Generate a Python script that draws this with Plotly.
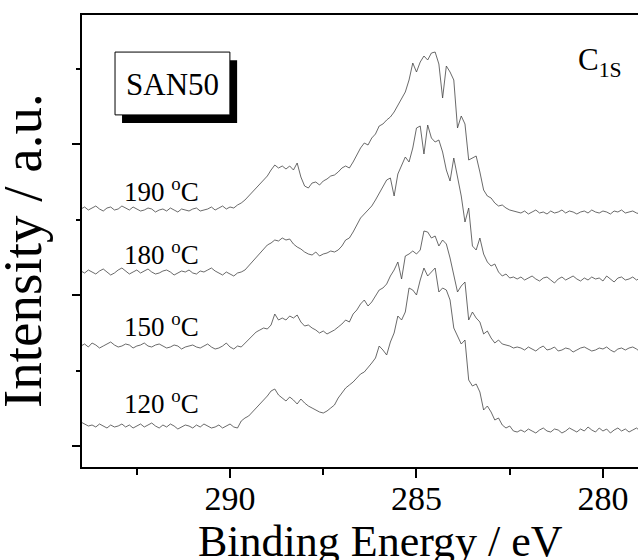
import plotly.graph_objects as go

# Binding energy grid (eV), 0.1 eV step from 294.0 down to 279.0
energy = [round(294.0 - 0.1 * i, 1) for i in range(151)]

# Intensities (a.u., offset spectra as plotted)
i190 = [237,239,236,238,240,237,235,238,239,236,237,240,238,236,239,237,235,236,238,237,
        234,236,237,235,238,236,234,237,236,235,237,238,235,236,237,239,236,238,240,237,
        239,238,241,
        243,246,250,254,257,262,265,270,276,281,278,280,277,280,
        276,283,269,260,258,263,264,261,265,267,270,271,274,278,280,
        278,284,291,298,303,301,308,312,320,322,326,329,334,341,347,354,366,383,374,384,
        390,386,393,394,382,
        348,380,374,366,318,330,322,286,288,290,274,256,250,248,243,240,241,238,236,235,234,
        233,235,232,234,236,233,234,232,235,233,234,236,233,235,234,232,234,235,233,236,
        234,233,235,234,232,235,234,236,233,234,235,233,232]

i180 = [175,173,176,174,172,175,177,174,171,173,176,178,175,172,174,176,173,175,177,174,
        172,173,175,176,174,171,173,175,174,176,173,172,175,174,176,178,175,173,171,174,
        172,170,173,
        174,176,180,184,188,193,196,201,203,206,205,208,206,207,
        202,199,197,194,192,191,194,190,192,193,195,194,196,200,206,
        208,214,221,228,232,236,240,246,253,260,266,268,250,272,280,289,284,298,318,320,
        292,321,308,304,306,294,276,265,288,268,250,224,238,200,196,208,192,184,180,182,
        174,170,172,168,169,167,
        169,166,168,170,167,165,168,169,166,163,167,169,166,168,170,167,165,168,166,169,
        167,168,165,170,167,164,168,169,166,167,169,166,168]

i150 = [100,102,99,103,101,98,100,102,104,101,99,100,102,101,98,100,101,103,100,99,
        101,102,100,98,99,101,100,97,99,100,101,99,98,100,102,99,97,98,100,103,
        99,97,100,
        99,103,106,110,114,116,118,117,121,132,126,128,126,130,
        128,131,124,120,121,118,116,113,115,112,114,116,119,122,126,
        124,132,136,142,146,140,144,150,156,158,162,170,176,184,167,190,192,195,192,196,
        215,214,208,210,200,206,202,188,170,154,160,164,126,134,128,124,112,115,108,103,
        106,102,101,100,98,99,
        98,96,99,97,95,98,100,96,97,99,95,96,98,97,94,96,98,99,97,95,
        96,98,97,99,96,94,97,98,96,98,99,97,94]

i120 = [24,22,20,21,19,22,20,18,21,19,20,22,19,21,18,20,22,19,21,23,
        20,18,21,19,22,20,17,19,21,20,18,21,19,22,20,18,19,21,18,20,
        22,19,18,
        25,28,30,34,38,41,46,50,55,57,51,48,45,49,
        46,42,47,43,40,38,36,34,33,35,38,41,48,53,58,
        61,64,68,72,74,78,83,88,100,96,91,104,113,130,126,134,158,156,151,166,
        178,170,174,178,154,158,156,146,118,110,102,106,66,60,62,54,36,40,34,26,
        28,21,18,20,15,14,
        16,14,17,15,13,16,18,15,14,17,16,13,15,18,16,14,17,15,19,16,
        14,18,15,17,13,16,18,15,17,14,16,18,15]

series = [("190 °C", i190), ("180 °C", i180), ("150 °C", i150), ("120 °C", i120)]
label_y = {"190 °C": 0.613, "180 °C": 0.473, "150 °C": 0.314, "120 °C": 0.144}

FONT = "Liberation Serif, Times New Roman, serif"

fig = go.Figure()
for name, vals in series:
    fig.add_trace(go.Scatter(x=energy, y=vals, mode="lines", name=name,
                             line=dict(color="#444444", width=0.8),
                             showlegend=False))

annotations = []
for name, _ in series:
    num = name.split(" ")[0]
    annotations.append(dict(text=f"{num} <sup>o</sup>C", xref="paper", yref="paper",
                            x=0.072, y=label_y[name], xanchor="left", yanchor="middle",
                            showarrow=False, font=dict(family=FONT, size=27, color="black")))

annotations += [
    dict(text="SAN50", xref="paper", yref="paper", x=0.162, y=0.847,
         xanchor="center", yanchor="middle", showarrow=False,
         font=dict(family=FONT, size=31, color="black")),
    dict(text="C<sub>1S</sub>", xref="paper", yref="paper", x=0.888, y=0.895,
         xanchor="left", yanchor="middle", showarrow=False,
         font=dict(family=FONT, size=31, color="black")),
    dict(text="Intensity / a.u.", xref="paper", yref="paper", x=-0.108, y=0.48,
         xanchor="center", yanchor="middle", textangle=-90, showarrow=False,
         font=dict(family=FONT, size=55, color="black")),
    dict(text="Binding Energy / eV", xref="paper", yref="paper", x=0.536, y=-0.164,
         xanchor="center", yanchor="middle", showarrow=False,
         font=dict(family=FONT, size=44, color="black")),
]

shapes = [
    dict(type="rect", xref="paper", yref="paper", x0=0.072, x1=0.279, y0=0.761, y1=0.900,
         fillcolor="black", line=dict(width=0), layer="above"),
    dict(type="rect", xref="paper", yref="paper", x0=0.0594, x1=0.266, y0=0.779, y1=0.918,
         fillcolor="white", line=dict(color="black", width=1), layer="above"),
]

fig.update_layout(
    width=638, height=560,
    margin=dict(l=82, r=0, t=15, b=93),
    paper_bgcolor="white", plot_bgcolor="white",
    annotations=annotations, shapes=shapes,
    xaxis=dict(range=[293.97, 279.06], showgrid=False, zeroline=False,
               showline=True, linecolor="black", linewidth=2, mirror=True,
               ticks="outside", ticklen=9, tickwidth=1.5, tickcolor="black",
               tick0=280, dtick=5, tickmode="linear", ticklabelstandoff=-9,
               minor=dict(ticks="outside", ticklen=6, tickwidth=1.5, tickcolor="black",
                          dtick=2.5, tick0=280, showgrid=False),
               tickfont=dict(family=FONT, size=34, color="black")),
    yaxis=dict(range=[-21, 431], showgrid=False, zeroline=False,
               showline=True, linecolor="black", linewidth=2, mirror=False,
               ticks="outside", ticklen=8, tickwidth=1.5, tickcolor="black",
               tick0=0, dtick=151, tickmode="linear", showticklabels=False,
               minor=dict(ticks="outside", ticklen=4, tickwidth=1.5, tickcolor="black",
                          dtick=75.5, tick0=0, showgrid=False)),
)

fig.write_html("out.html", post_script="document.body.style.margin='0';",
               config={"displayModeBar": False})
